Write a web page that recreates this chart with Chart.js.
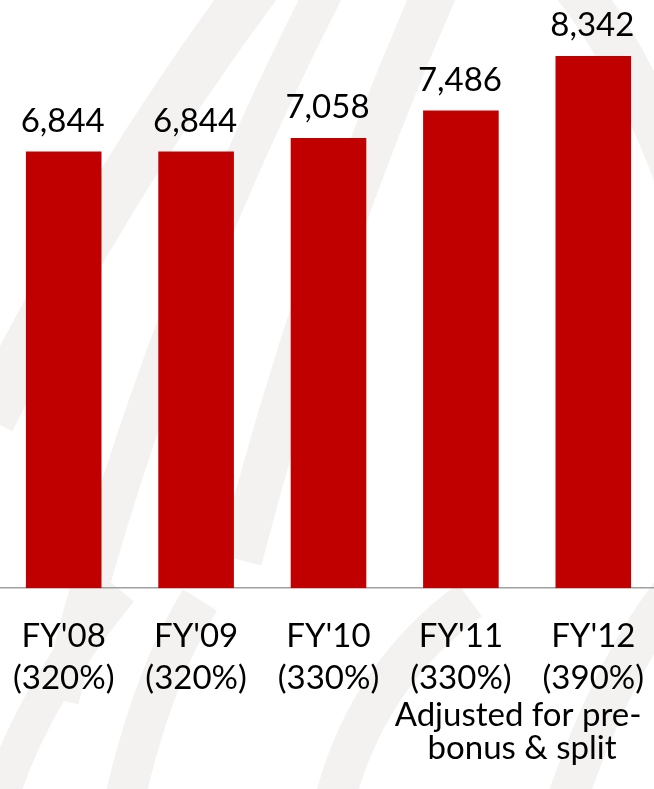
<!DOCTYPE html>
<html>
<head>
<meta charset="utf-8">
<script src="https://cdn.jsdelivr.net/npm/chart.js@4"></script>
<style>
  html, body { margin: 0; padding: 0; background: #ffffff; overflow: hidden; }
  body { width: 654px; height: 789px; position: relative; }
  #wrap { position: absolute; left: -13px; top: 0; width: 683px; height: 789px; }
</style>
</head>
<body>
<div id="wrap"><canvas id="c"></canvas></div>
<script>
const years = ["FY'08", "FY'09", "FY'10", "FY'11", "FY'12"];
const ratios = ["(320%)", "(320%)", "(330%)", "(330%)", "(390%)"];
const values = [6844, 6844, 7058, 7486, 8342];
const noteLines = ["Adjusted for pre-", "bonus & split"];

const FONT = "Lato, 'Open Sans', sans-serif";
const SHIFT = 13;

const bgPlugin = {
  id: 'bg',
  beforeDraw(chart) {
    const ctx = chart.ctx;
    ctx.save();
    ctx.fillStyle = '#ffffff';
    ctx.fillRect(0, 0, chart.width, chart.height);
    ctx.strokeStyle = '#f4f2f0';
    ctx.lineCap = 'butt';
    const bands = [
      [[-10, 420], [110, 180], [260, -20], 50],
      [[60, 700], [150, 330], [330, -20], 38],
      [[240, 560], [320, 250], [440, -20], 44],
      [[120, 820], [150, 680], [200, 600], 40],
      [[330, 820], [360, 680], [470, 600], 40],
      [[570, -20], [650, 80], [700, 250], 44],
      [[560, 820], [620, 640], [700, 560], 40],
      [[0, 800], [30, 700], [120, 590], 36]
    ];
    for (const [p0, p1, p2, w] of bands) {
      ctx.lineWidth = w;
      ctx.beginPath();
      ctx.moveTo(p0[0] + SHIFT, p0[1]);
      ctx.quadraticCurveTo(p1[0] + SHIFT, p1[1], p2[0] + SHIFT, p2[1]);
      ctx.stroke();
    }
    ctx.restore();
  }
};

const labelPlugin = {
  id: 'vals',
  afterDatasetsDraw(chart) {
    const ctx = chart.ctx;
    const meta = chart.getDatasetMeta(0);
    ctx.save();
    ctx.fillStyle = '#000000';
    ctx.font = '33px ' + FONT;
    ctx.textAlign = 'center';
    ctx.textBaseline = 'alphabetic';
    meta.data.forEach((bar, i) => {
      ctx.fillText(values[i].toLocaleString('en-US'), bar.x - 1, bar.y - 20);
    });
    const xs = chart.scales.x;
    const cx = (xs.getPixelForValue(3) + xs.getPixelForValue(4)) / 2 - 9;
    const base = chart.chartArea.bottom;
    noteLines.forEach((t, i) => {
      ctx.fillText(t, cx + (i === 1 ? 4 : 0), base + 138 + i * 33);
    });
    ctx.restore();
  }
};

new Chart(document.getElementById('c'), {
  type: 'bar',
  data: {
    labels: years.map((y, i) => [y, ratios[i]]),
    datasets: [{
      data: values,
      backgroundColor: '#C00000',
      borderWidth: 0,
      barPercentage: 0.571,
      categoryPercentage: 1.0
    }]
  },
  options: {
    responsive: true,
    maintainAspectRatio: false,
    animation: false,
    layout: { padding: { top: 14, bottom: 63, left: 0, right: 0 } },
    plugins: { legend: { display: false }, tooltip: { enabled: false } },
    scales: {
      y: {
        display: false,
        min: 0,
        max: 9000
      },
      x: {
        grid: { display: false, drawTicks: false },
        border: { display: true, color: '#a0a0a0', width: 1.5 },
        ticks: {
          color: '#000000',
          font: { family: FONT, size: 33, lineHeight: 1.27 },
          padding: 27,
          autoSkip: false,
          maxRotation: 0
        }
      }
    }
  },
  plugins: [bgPlugin, labelPlugin]
});
</script>
</body>
</html>
